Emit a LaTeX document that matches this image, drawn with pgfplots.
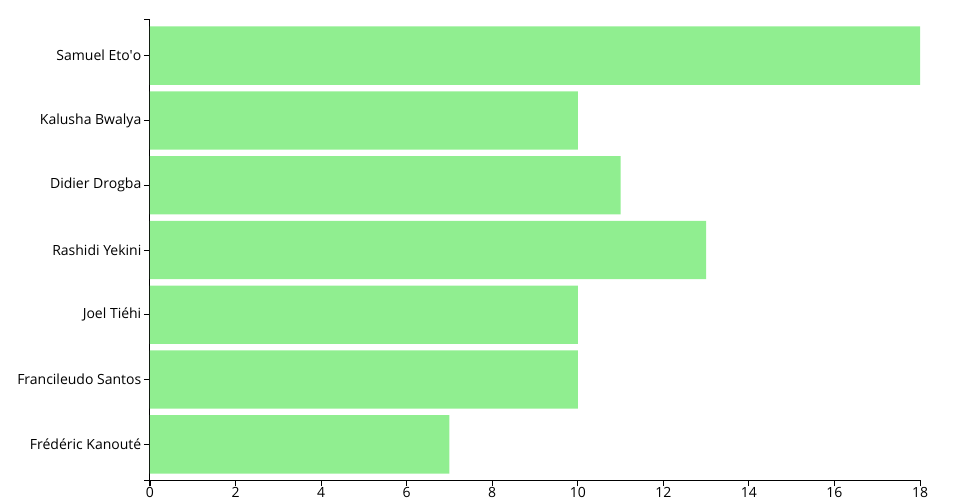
\documentclass[border=0pt]{standalone}
\usepackage{pgfplots}
\pgfplotsset{compat=1.18}
\usepackage{fontspec}
\setmainfont{Open Sans}
\definecolor{barfill}{HTML}{90EE90}
\begin{document}
\begin{tikzpicture}
\begin{axis}[
  name=ax,
  scale only axis, width=770bp, height=460bp,
  xmin=0, xmax=18, ymin=-0.55, ymax=6.55,
  y dir=reverse,
  axis x line*=bottom, axis y line*=left,
  axis line style={-, black, line width=1bp},
  xtick={0,2,...,18}, ytick={0,...,6},
  yticklabels={Samuel Eto\textquotesingle o,Kalusha Bwalya,Didier Drogba,Rashidi Yekini,Joel Tiéhi,Francileudo Santos,Frédéric Kanouté},
  tick align=outside, major tick length=6bp,
  tick style={black, line width=1bp},
  /pgf/number format/assume math mode=true,
  tick label style={font=\fontsize{14bp}{16bp}\selectfont, text=black},
  yticklabel style={inner sep=0pt, xshift=-2.5bp},
  xticklabel style={inner sep=0pt, yshift=-1bp, anchor=north},
  clip=false,
]
\addplot[xbar, bar width=0.9, fill=barfill, draw=none, bar shift=0pt] coordinates {
(18,0) (10,1) (11,2) (13,3) (10,4) (10,5) (7,6)};
\end{axis}
\draw[black, line width=1bp] (ax.north west) -- ++(-6bp,0);
\draw[black, line width=1bp] (ax.south west) -- ++(-6bp,0);
\draw[black, line width=1bp] (ax.south west) -- ++(0,-6bp);
\draw[black, line width=1bp] (ax.south east) -- ++(0,-6bp);
\pgfresetboundingbox
\path (ax.south west) ++(-150bp,-20bp) rectangle ++(960bp,500bp);
\end{tikzpicture}
\end{document}
